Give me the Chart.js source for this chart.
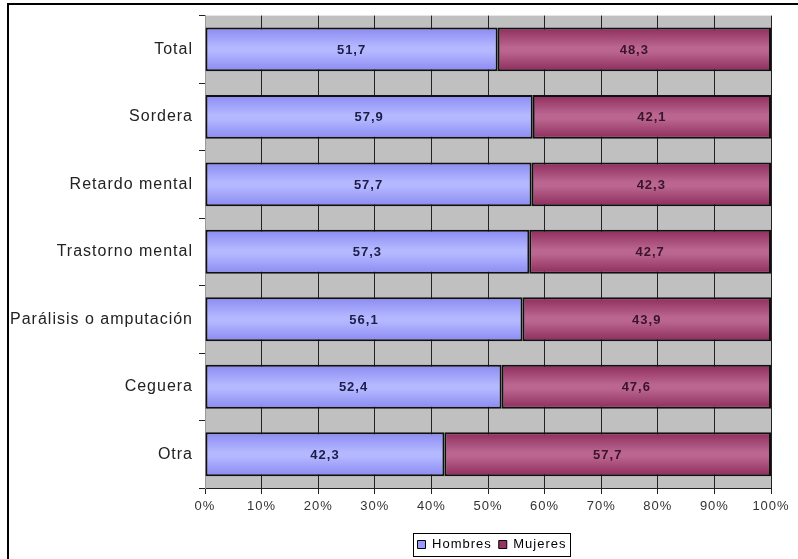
<!DOCTYPE html>
<html>
<head>
<meta charset="utf-8">
<script src="https://cdn.jsdelivr.net/npm/chart.js@4/dist/chart.umd.min.js"></script>
<style>
  html, body { margin: 0; padding: 0; background: #fff; }
  canvas { display: block; }
</style>
</head>
<body>
<canvas id="chart" width="798" height="559"></canvas>
<script>
const categories = ['Total', 'Sordera', 'Retardo mental', 'Trastorno mental', 'Parálisis o amputación', 'Ceguera', 'Otra'];
const hombres = [51.7, 57.9, 57.7, 57.3, 56.1, 52.4, 42.3];
const mujeres = [48.3, 42.1, 42.3, 42.7, 43.9, 47.6, 57.7];
const xTicks = [0, 10, 20, 30, 40, 50, 60, 70, 80, 90, 100];

const BAR_PCT = 0.65;
const FONT = '"Liberation Sans", Arial, sans-serif';

// vertical shading like the old excel bars: darker edges, lighter middle
function barGradient(edge, mid) {
    return (c) => {
        const chart = c.chart;
        const y = chart.scales && chart.scales.y;
        if (c.type !== 'data' || !y || !chart.chartArea) return mid;
        const cy = y.getPixelForValue(c.dataIndex);
        const half = Math.abs(y.getPixelForValue(1) - y.getPixelForValue(0)) * BAR_PCT / 2;
        const g = chart.ctx.createLinearGradient(0, cy - half, 0, cy + half);
        g.addColorStop(0, edge);
        g.addColorStop(0.45, mid);
        g.addColorStop(0.55, mid);
        g.addColorStop(1, edge);
        return g;
    };
}

const plotBg = {
    id: 'plotBg',
    beforeUpdate(chart) {
        // the scanned original has rather wide-set lettering
        chart.ctx.letterSpacing = '1px';
    },
    afterLayout(chart) {
        // excel centres the legend under the plot, not the whole canvas
        const lg = chart.legend;
        if (lg) {
            lg.left = chart.chartArea.left + 4;
            lg.right = chart.chartArea.right + 4;
            lg.width = lg.right - lg.left;
            lg.top += 3;
            lg.bottom += 3;
        }
    },
    beforeDraw(chart) {
        const { ctx, chartArea: a } = chart;
        ctx.letterSpacing = '1px';
        ctx.save();
        ctx.fillStyle = '#c0c0c0';
        ctx.fillRect(a.left, a.top, a.right - a.left, a.bottom - a.top);
        ctx.restore();
    },
    afterDraw(chart) {
        const ctx = chart.ctx;
        ctx.save();
        // outer frame (left + top only visible)
        ctx.strokeStyle = '#000';
        ctx.lineWidth = 2;
        ctx.beginPath();
        ctx.moveTo(8, 600);
        ctx.lineTo(8, 4);
        ctx.lineTo(800, 4);
        ctx.stroke();
        // box round the legend
        const lg = chart.legend;
        if (lg && lg.legendHitBoxes && lg.legendHitBoxes.length) {
            const hb = lg.legendHitBoxes;
            const x0 = Math.min(...hb.map(h => h.left)) - 5;
            const x1 = Math.max(...hb.map(h => h.left + h.width)) + 3;
            const yc = hb[0].top + hb[0].height / 2;
            ctx.lineWidth = 1;
            ctx.strokeRect(Math.round(x0) + 0.5, Math.round(yc - 12) + 0.5, Math.round(x1 - x0), 23);
        }
        ctx.restore();
    }
};

const valueLabels = {
    id: 'valueLabels',
    afterDatasetsDraw(chart) {
        const ctx = chart.ctx;
        ctx.save();
        ctx.textAlign = 'center';
        ctx.textBaseline = 'middle';
        ctx.font = 'bold 13px ' + FONT;
        const colors = ['#1c1c48', '#3a1428'];
        chart.data.datasets.forEach((ds, di) => {
            const meta = chart.getDatasetMeta(di);
            ctx.fillStyle = colors[di];
            meta.data.forEach((el, i) => {
                const v = ds.data[i];
                ctx.fillText(v.toFixed(1).replace('.', ','), (el.x + el.base) / 2, el.y + 1);
            });
        });
        ctx.restore();
    }
};

new Chart(document.getElementById('chart'), {
    type: 'bar',
    data: {
        labels: categories,
        datasets: [{
            label: 'Hombres',
            data: hombres,
            backgroundColor: barGradient('#8a8af2', '#b4b8ff'),
            borderColor: '#101010',
            borderWidth: 2,
            borderSkipped: false,
            categoryPercentage: 1,
            barPercentage: BAR_PCT
        }, {
            label: 'Mujeres',
            data: mujeres,
            backgroundColor: barGradient('#8e2c5c', '#ba6690'),
            borderColor: '#101010',
            borderWidth: 2,
            borderSkipped: false,
            categoryPercentage: 1,
            barPercentage: BAR_PCT
        }]
    },
    options: {
        indexAxis: 'y',
        responsive: false,
        animation: false,
        devicePixelRatio: 1,
        layout: { padding: { top: 15, right: 27, bottom: 1, left: 0 } },
        scales: {
            x: {
                stacked: true,
                min: 0,
                max: 100,
                afterBuildTicks: (s) => { s.ticks = xTicks.map(v => ({ value: v })); },
                afterFit: (s) => { s.height = 40; },
                ticks: {
                    callback: (v) => v + '%',
                    color: '#333',
                    padding: 5,
                    maxRotation: 0,
                    font: { family: FONT, size: 13 }
                },
                grid: { color: '#222', lineWidth: 1, tickLength: 6, tickColor: '#222' },
                border: { display: true, color: '#222', width: 1 }
            },
            y: {
                stacked: true,
                afterFit: (s) => { s.width = 205; },
                ticks: {
                    color: '#222',
                    padding: 6,
                    font: { family: FONT, size: 16 }
                },
                grid: { offset: true, drawOnChartArea: false, tickLength: 6, color: '#222' },
                border: { display: true, color: '#999', width: 1 }
            }
        },
        plugins: {
            legend: {
                position: 'bottom',
                labels: {
                    boxWidth: 8,
                    boxHeight: 8,
                    padding: 7,
                    color: '#222',
                    font: { family: FONT, size: 13 },
                    generateLabels: (chart) => chart.data.datasets.map((ds, i) => ({
                        text: ds.label,
                        fillStyle: ['#9999ff', '#993366'][i],
                        strokeStyle: '#000',
                        lineWidth: 1,
                        datasetIndex: i
                    }))
                }
            },
            tooltip: { enabled: false }
        }
    },
    plugins: [plotBg, valueLabels]
});
</script>
</body>
</html>
